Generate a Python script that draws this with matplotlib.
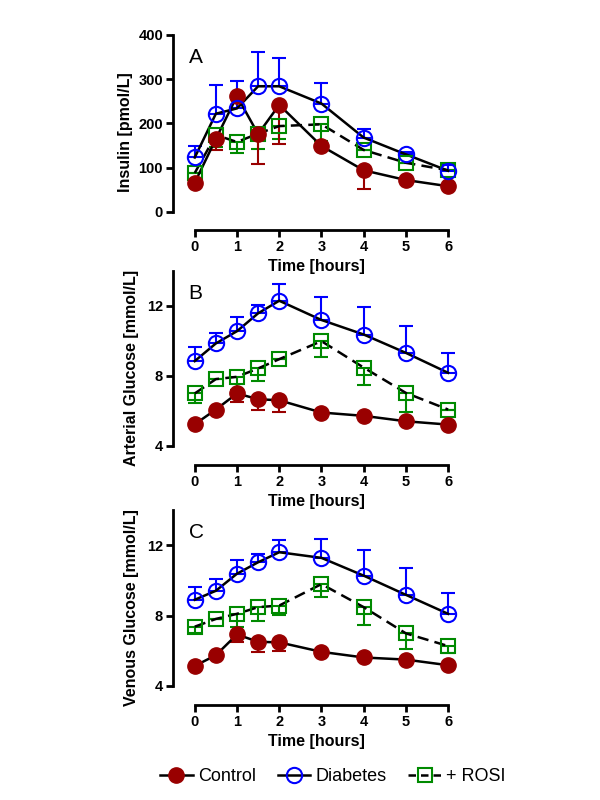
import matplotlib
matplotlib.use('Agg')
import matplotlib.pyplot as plt
from matplotlib.lines import Line2D

plt.rcParams['font.family'] = ['Liberation Sans', 'DejaVu Sans']

# Time points (hours)
time = [0, 0.5, 1, 1.5, 2, 3, 4, 5, 6]

# Panel A: insulin [pmol/L]
ins_ctrl = [66, 165, 262, 176, 242, 149, 94, 72, 58]
ins_ctrl_lo = [0, 25, 0, 67, 88, 0, 42, 0, 0]
ins_diab = [123, 222, 234, 284, 284, 245, 168, 130, 93]
ins_diab_hi = [27, 64, 63, 77, 64, 47, 19, 5, 14]
ins_rosi = [88, 174, 158, 177, 194, 198, 140, 111, 94]
ins_rosi_lo = [0, 28, 24, 35, 30, 37, 0, 0, 0]

# Panel B: arterial glucose [mmol/L]
art_ctrl = [5.24, 6.08, 7.0, 6.67, 6.61, 5.91, 5.72, 5.41, 5.22]
art_ctrl_lo = [0, 0, 0.48, 0.59, 0.66, 0, 0, 0, 0]
art_diab = [8.85, 9.86, 10.56, 11.58, 12.3, 11.2, 10.37, 9.32, 8.18]
art_diab_hi = [0.78, 0.61, 0.79, 0.47, 0.96, 1.33, 1.59, 1.55, 1.16]
art_rosi = [7.0, 7.82, 7.95, 8.43, 8.96, 9.99, 8.48, 7.03, 6.08]
art_rosi_lo = [0.54, 0, 0.73, 0.71, 0, 0.89, 1.01, 1.08, 0]

# Panel C: venous glucose [mmol/L]
ven_ctrl = [5.14, 5.75, 6.93, 6.51, 6.48, 5.94, 5.62, 5.5, 5.18]
ven_ctrl_lo = [0, 0, 0.42, 0.57, 0.5, 0, 0, 0, 0]
ven_diab = [8.9, 9.41, 10.38, 11.03, 11.6, 11.28, 10.27, 9.18, 8.1]
ven_diab_hi = [0.72, 0.67, 0.8, 0.46, 0.72, 1.1, 1.48, 1.52, 1.18]
ven_rosi = [7.37, 7.81, 8.1, 8.48, 8.57, 9.79, 8.48, 6.99, 6.27]
ven_rosi_lo = [0.37, 0, 0.73, 0.77, 0.53, 0.76, 1.01, 0.91, 0.42]

red = '#990000'
blue = '#0000ff'
green = '#008a00'
dash = (0, (4.5, 2.5))

panels = [
    ('A', 'Insulin [pmol/L]', ins_ctrl, ins_ctrl_lo, ins_diab, ins_diab_hi, ins_rosi, ins_rosi_lo,
     (-41, 400), (0, 400), [0, 100, 200, 300, 400], [0.7125, 0.24375], 4),
    ('B', 'Arterial Glucose [mmol/L]', art_ctrl, art_ctrl_lo, art_diab, art_diab_hi, art_rosi, art_rosi_lo,
     (2.91, 14), (4, 14), [4, 8, 12], [0.41875, 0.2425], 6),
    ('C', 'Venous Glucose [mmol/L]', ven_ctrl, ven_ctrl_lo, ven_diab, ven_diab_hi, ven_rosi, ven_rosi_lo,
     (2.92, 14), (4, 14), [4, 8, 12], [0.11875, 0.24375], 6),
]

fig = plt.figure(figsize=(6, 8), dpi=100)

for letter, ylabel, c, c_lo, d, d_hi, r, r_lo, ylim, bounds, yticks, (bot, h), lpad in panels:
    ax = fig.add_axes([0.288, bot, 0.48, h])
    ax.patch.set_visible(False)
    zeros = [0] * len(time)

    # error bars (one-sided like the original)
    ax.errorbar(time, r, yerr=[r_lo, zeros], fmt='none', ecolor=green, elinewidth=1.5,
                capsize=5, capthick=1.5, zorder=2)
    ax.errorbar(time, c, yerr=[c_lo, zeros], fmt='none', ecolor=red, elinewidth=1.5,
                capsize=5, capthick=1.5, zorder=2)
    ax.errorbar(time, d, yerr=[zeros, d_hi], fmt='none', ecolor=blue, elinewidth=1.5,
                capsize=5, capthick=1.5, zorder=2)

    ax.plot(time, r, color='black', lw=1.8, ls=dash, zorder=3)
    ax.plot(time, c, color='black', lw=1.8, zorder=3)
    ax.plot(time, d, color='black', lw=1.8, zorder=3)

    ax.plot(time, r, ls='none', marker='s', ms=10.5, mfc='none', mec=green, mew=1.5, zorder=4)
    ax.plot(time, c, ls='none', marker='o', ms=11, mfc=red, mec=red, zorder=4)
    ax.plot(time, d, ls='none', marker='o', ms=11, mfc='none', mec=blue, mew=1.5, zorder=5)

    ax.set_xlim(-0.52, 6.3)
    ax.set_ylim(*ylim)
    ax.set_yticks(yticks)
    ax.set_xticks(range(7))
    ax.spines['top'].set_visible(False)
    ax.spines['right'].set_visible(False)
    ax.spines['left'].set_bounds(*bounds)
    ax.spines['bottom'].set_bounds(0, 6)
    ax.spines['left'].set_linewidth(2)
    ax.spines['bottom'].set_linewidth(2)
    ax.tick_params(width=2, length=5, labelsize=10.5, pad=2)
    for lab in ax.get_xticklabels() + ax.get_yticklabels():
        lab.set_fontweight('bold')
    ax.set_xlabel('Time [hours]', fontsize=11.5, fontweight='bold', labelpad=4)
    ax.set_ylabel(ylabel, fontsize=11.5, fontweight='bold', labelpad=lpad)
    ax.text(0.055, 0.935, letter, transform=ax.transAxes, fontsize=15, va='top', ha='left')

handles = [
    Line2D([], [], color='black', lw=1.8, marker='o', ms=11, mfc=red, mec=red),
    Line2D([], [], color='black', lw=1.8, marker='o', ms=11, mfc='none', mec=blue, mew=1.5),
    Line2D([], [], color='black', lw=1.8, ls=(0, (3, 2)), marker='s', ms=10.5, mfc='none',
           mec=green, mew=1.5),
]
fig.legend(handles, ['Control', 'Diabetes', '+ ROSI'], loc='center', bbox_to_anchor=(0.555, 0.029),
           ncol=3, frameon=False, fontsize=13, handlelength=1.8, handletextpad=0.3,
           columnspacing=1.2)

fig.savefig('out.png', dpi=100)
